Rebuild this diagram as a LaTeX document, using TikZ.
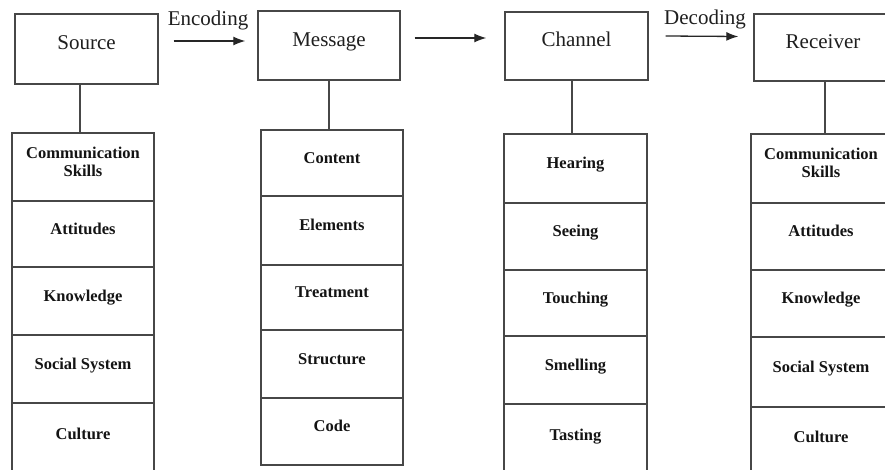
\documentclass[tikz,border=0pt]{standalone}
\usepackage{fontspec}
\setmainfont{Liberation Serif}
\usetikzlibrary{arrows.meta}
\newcommand{\celltxt}[2]{\raisebox{#1}[\height][\depth]{\begin{tabular}{@{}c@{}}#2\end{tabular}}}
\tikzset{
  boxline/.style={draw=black!72, line width=1.4pt},
  topbox/.style={boxline, rectangle, inner sep=0pt, text=black!88,
    font=\fontsize{21}{25}\selectfont},
  cellbox/.style={boxline, rectangle, inner sep=0pt, text=black!92,
    font=\fontsize{16.5}{18}\selectfont\bfseries},
  conn/.style={draw=black!72, line width=1.4pt},
  arr/.style={draw=black!85, line width=1.3pt, -{Latex[length=12pt,width=9pt]}},
  lbl/.style={inner sep=0pt, text=black!88, font=\fontsize{21}{25}\selectfont}
}
\begin{document}
\begin{tikzpicture}[x=1pt,y=-1pt]
\clip (0,0) rectangle (885,470);
\fill[white] (0,0) rectangle (885,470);
% top boxes
\node[topbox, minimum width=143pt, minimum height=70pt] (src) at (86.5,49) {\celltxt{4pt}{Source}};
\node[topbox, minimum width=142pt, minimum height=69pt] (msg) at (329,45.5) {\celltxt{4pt}{Message}};
\node[topbox, minimum width=143pt, minimum height=68pt] (chn) at (576.5,46) {\celltxt{4pt}{Channel}};
\node[topbox, minimum width=138pt, minimum height=67pt] (rec) at (823,47.5) {\celltxt{4pt}{Receiver}};
% arrows
\draw[arr] ([xshift=15pt,yshift=8pt]src.east) -- ([xshift=-12pt,yshift=4.5pt]msg.west);
\draw[arr] ([xshift=14pt,yshift=7.5pt]msg.east) -- ([xshift=-18pt,yshift=8pt]chn.west);
\draw[arr] ([xshift=17pt,yshift=10pt]chn.east) -- ([xshift=-15pt,yshift=11pt]rec.west);
\node[lbl] (enc) at (208,20) {Encoding};
\node[lbl] (dec) at (705,19) {Decoding};
% source column
\node[cellbox, minimum width=142pt, minimum height=68pt] (s1) at (83,167) {\celltxt{3.5pt}{Communication\\Skills}};
\node[cellbox, minimum width=142pt, minimum height=66pt] (s2) at (83,234) {\celltxt{3.5pt}{Attitudes}};
\node[cellbox, minimum width=142pt, minimum height=68pt] (s3) at (83,301) {\celltxt{3.5pt}{Knowledge}};
\node[cellbox, minimum width=142pt, minimum height=68pt] (s4) at (83,369) {\celltxt{3.5pt}{Social System}};
\node[cellbox, minimum width=142pt, minimum height=72pt] (s5) at (83,439) {\celltxt{3.5pt}{Culture}};
% message column
\node[cellbox, minimum width=142pt, minimum height=66pt] (m1) at (332,163) {\celltxt{3.5pt}{Content}};
\node[cellbox, minimum width=142pt, minimum height=69pt] (m2) at (332,230.5) {\celltxt{3.5pt}{Elements}};
\node[cellbox, minimum width=142pt, minimum height=65pt] (m3) at (332,297.5) {\celltxt{3.5pt}{Treatment}};
\node[cellbox, minimum width=142pt, minimum height=68pt] (m4) at (332,364) {\celltxt{3.5pt}{Structure}};
\node[cellbox, minimum width=142pt, minimum height=67pt] (m5) at (332,431.5) {\celltxt{3.5pt}{Code}};
% channel column
\node[cellbox, minimum width=143pt, minimum height=69pt] (c1) at (575.5,168.5) {\celltxt{3.5pt}{Hearing}};
\node[cellbox, minimum width=143pt, minimum height=67pt] (c2) at (575.5,236.5) {\celltxt{3.5pt}{Seeing}};
\node[cellbox, minimum width=143pt, minimum height=66pt] (c3) at (575.5,303) {\celltxt{3.5pt}{Touching}};
\node[cellbox, minimum width=143pt, minimum height=68pt] (c4) at (575.5,370) {\celltxt{3.5pt}{Smelling}};
\node[cellbox, minimum width=143pt, minimum height=72pt] (c5) at (575.5,440) {\celltxt{3.5pt}{Tasting}};
% receiver column
\node[cellbox, minimum width=140pt, minimum height=69pt] (r1) at (821,168.5) {\celltxt{3.5pt}{Communication\\Skills}};
\node[cellbox, minimum width=140pt, minimum height=67pt] (r2) at (821,236.5) {\celltxt{3.5pt}{Attitudes}};
\node[cellbox, minimum width=140pt, minimum height=67pt] (r3) at (821,303.5) {\celltxt{3.5pt}{Knowledge}};
\node[cellbox, minimum width=140pt, minimum height=70pt] (r4) at (821,372) {\celltxt{3.5pt}{Social System}};
\node[cellbox, minimum width=140pt, minimum height=70pt] (r5) at (821,442) {\celltxt{3.5pt}{Culture}};
% connectors
\draw[conn] ([xshift=-6.5pt]src.south) -- ([xshift=-6.5pt]src.south |- s1.north);
\draw[conn] (msg.south) -- (msg.south |- m1.north);
\draw[conn] ([xshift=-4.5pt]chn.south) -- ([xshift=-4.5pt]chn.south |- c1.north);
\draw[conn] ([xshift=2pt]rec.south) -- ([xshift=2pt]rec.south |- r1.north);
\end{tikzpicture}
\end{document}
